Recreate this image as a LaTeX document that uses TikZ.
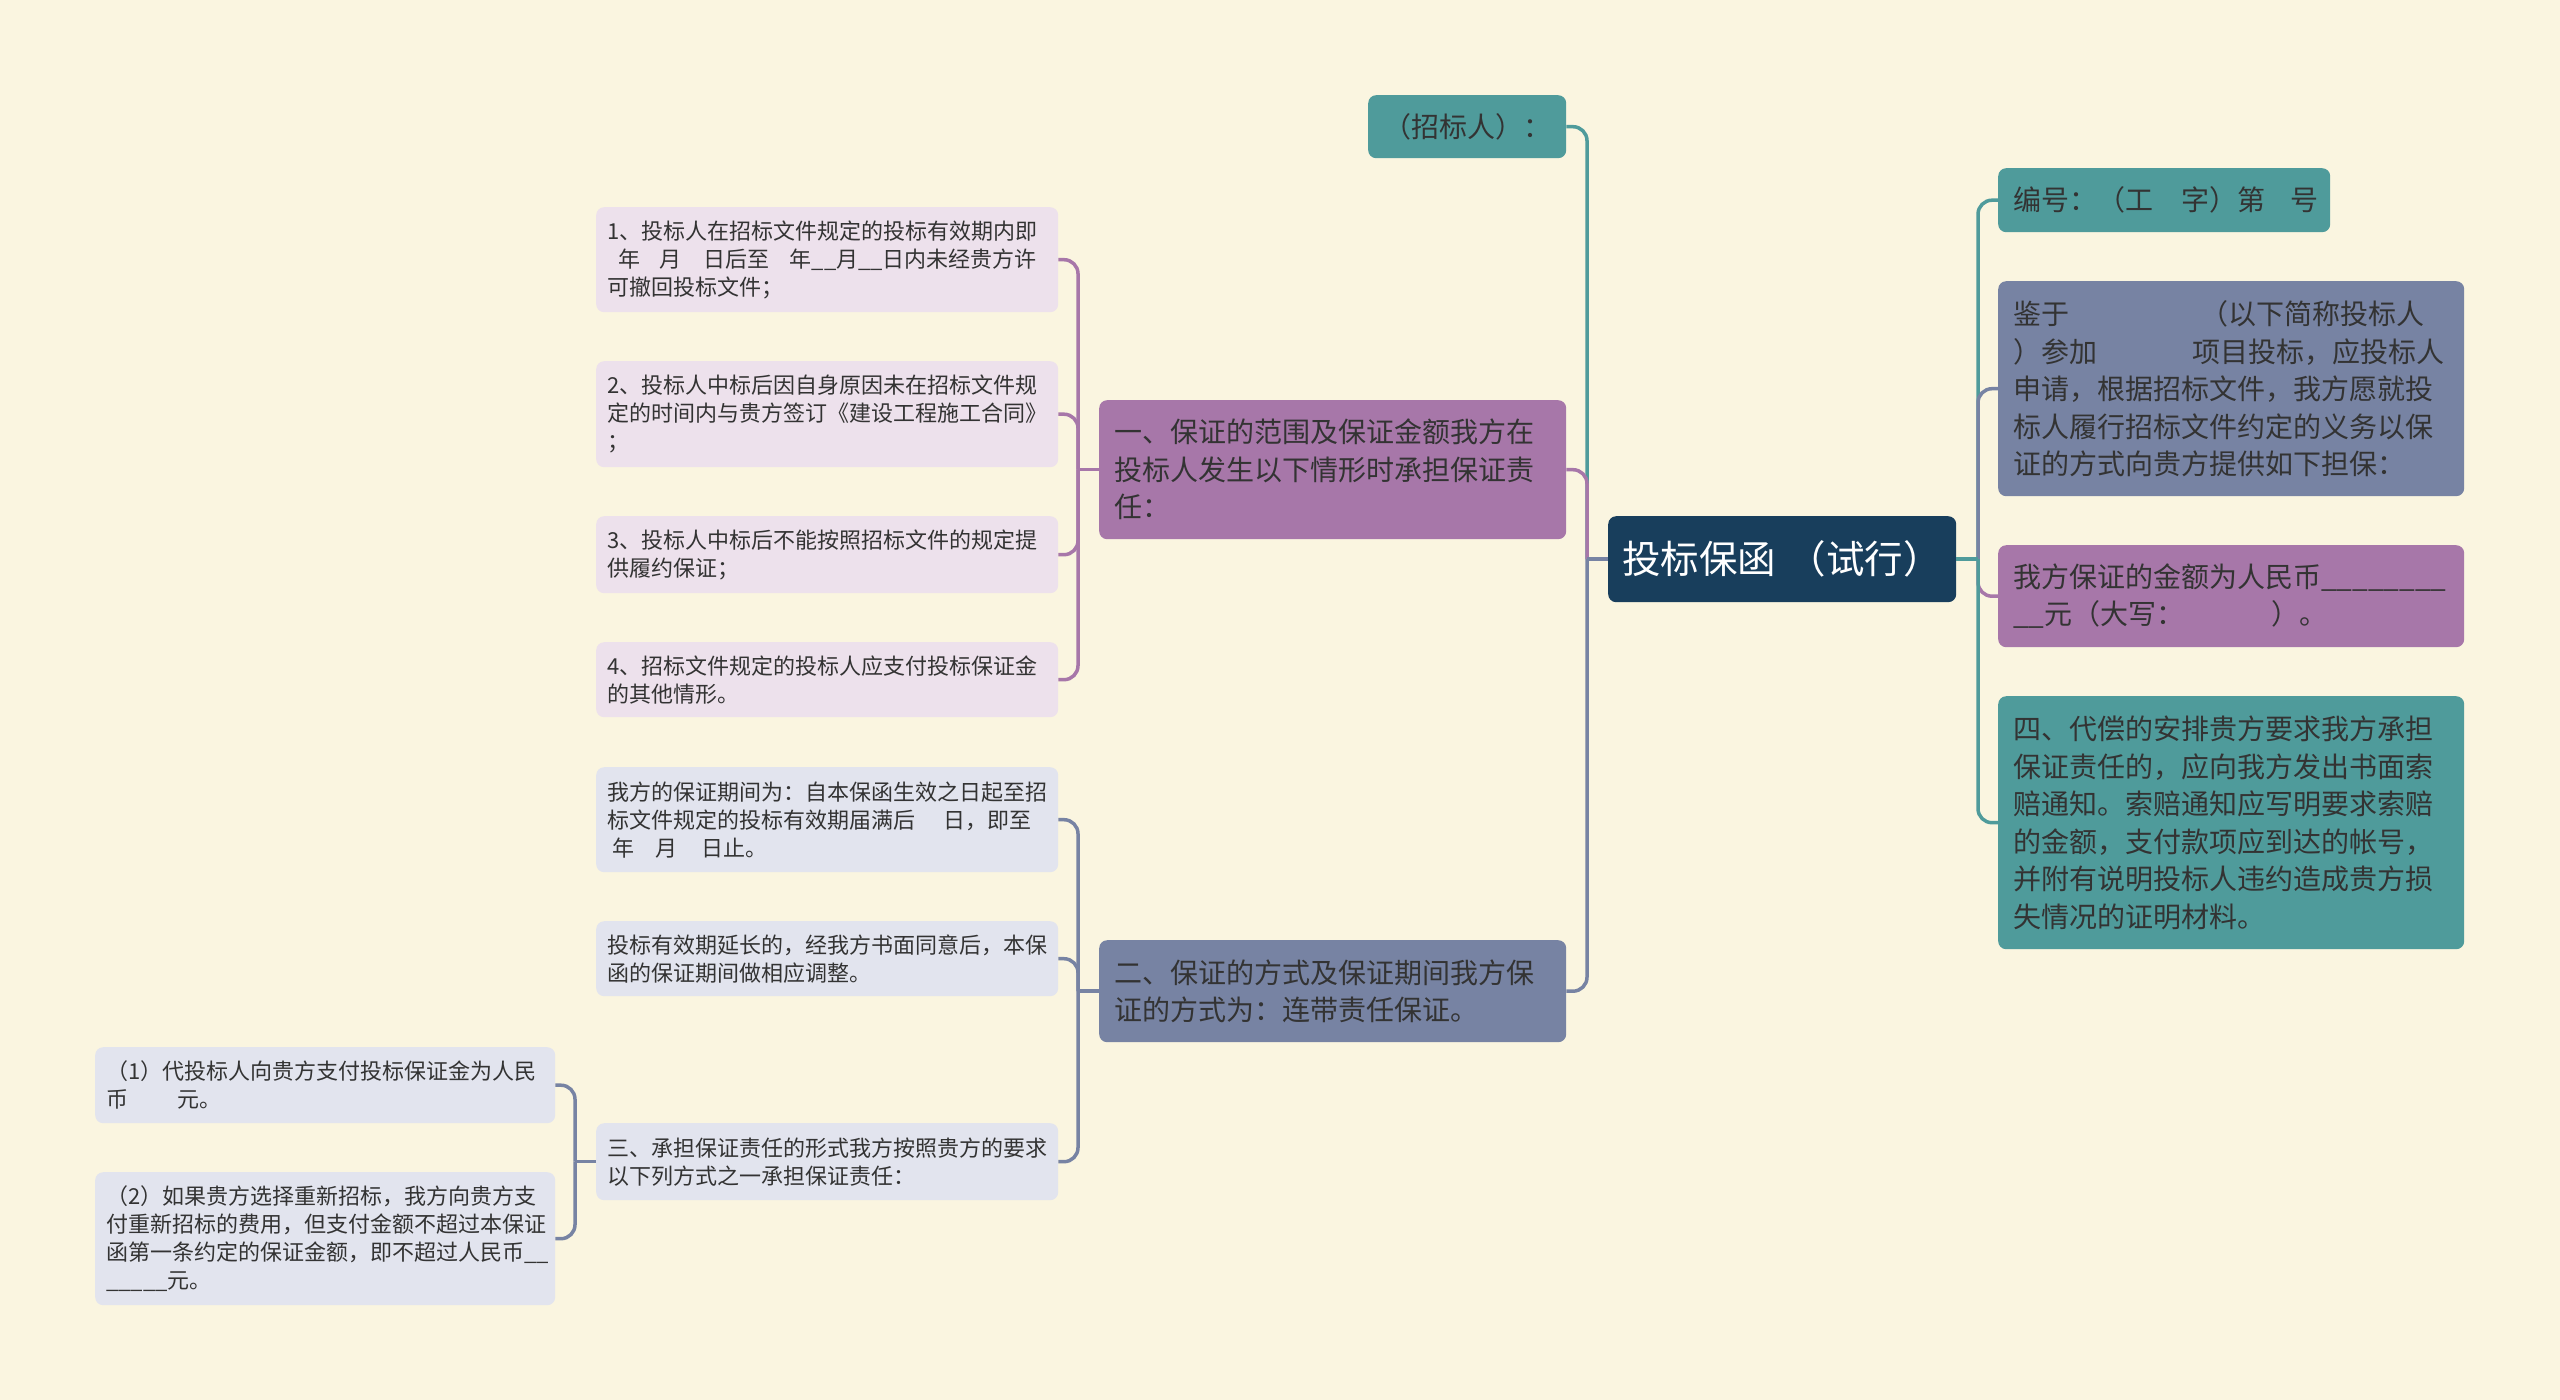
\documentclass[tikz,border=0pt]{standalone}
\usepackage{fontspec}
\setmainfont{Noto Sans CJK SC}
\definecolor{bgc}{HTML}{FAF5E0}
\definecolor{tealc}{HTML}{4F9B9B}
\definecolor{purpc}{HTML}{A777A9}
\definecolor{slatec}{HTML}{7783A3}
\definecolor{navyc}{HTML}{183E5C}
\definecolor{lavc}{HTML}{EDE1EC}
\definecolor{greyc}{HTML}{E2E4EE}
\definecolor{txtc}{HTML}{333333}
\newcommand\blankgap[1]{\nobreak\hspace*{#1}\nobreak}
\tikzset{
  boxbase/.style={anchor=north west, rounded corners=8pt, inner ysep=0pt, align=left, text=txtc},
  bigbox/.style={boxbase, inner xsep=15pt, font=\fontsize{28pt}{37.5pt}\selectfont},
  smallbox/.style={boxbase, inner xsep=11pt, font=\fontsize{22pt}{28pt}\selectfont},
  lk/.style={line width=3.5pt, rounded corners=14pt},
}
\begin{document}
\begin{tikzpicture}[x=1pt,y=-1pt]
\useasboundingbox (0,0) rectangle (2560,1400);
\fill[bgc] (0,0) rectangle (2560,1400);

% root
\node[boxbase, fill=navyc, text=white, align=center, inner xsep=0pt, minimum width=348pt, minimum height=86pt, font=\fontsize{38.5pt}{46pt}\selectfont] (root) at (1608,516) {\mbox{投标保函\blankgap{0.3em}（试行）}};

% left level 1
\node[bigbox, fill=tealc, align=center, inner xsep=0pt, minimum width=198pt, minimum height=63pt] (zb) at (1368,95) {（招标人）：};
\node[bigbox, fill=purpc, text width=437pt, minimum height=139pt] (yi) at (1099,400) {一、保证的范围及保证金额我方在\\投标人发生以下情形时承担保证责\\任：};
\node[bigbox, fill=slatec, text width=437pt, minimum height=102pt] (er) at (1099,940) {二、保证的方式及保证期间我方保\\证的方式为：连带责任保证。};

% children of yi
\node[smallbox, fill=lavc, text width=440pt, minimum height=105pt] (c1) at (596,207) {1、投标人在招标文件规定的投标有效期内即\\\mbox{\blankgap{0.5em}年\blankgap{0.9em}月\blankgap{1em}日后至\blankgap{0.9em}年\_\_月\_\_日内未经贵方许}\\可撤回投标文件；};
\node[smallbox, fill=lavc, text width=440pt, minimum height=106pt] (c2) at (596,361) {2、投标人中标后因自身原因未在招标文件规\\定的时间内与贵方签订《建设工程施工合同》\\；};
\node[smallbox, fill=lavc, text width=440pt, minimum height=77pt] (c3) at (596,516) {3、投标人中标后不能按照招标文件的规定提\\供履约保证；};
\node[smallbox, fill=lavc, text width=440pt, minimum height=75pt] (c4) at (596,642) {4、招标文件规定的投标人应支付投标保证金\\的其他情形。};

% children of er
\node[smallbox, fill=greyc, text width=440pt, minimum height=105pt] (d1) at (596,767) {我方的保证期间为：自本保函生效之日起至招\\\mbox{标文件规定的投标有效期届满后\blankgap{1.3em}日，即至}\\\mbox{\blankgap{0.25em}年\blankgap{0.95em}月\blankgap{1.1em}日止。}};
\node[smallbox, fill=greyc, text width=440pt, minimum height=75pt] (d2) at (596,921) {投标有效期延长的，经我方书面同意后，本保\\函的保证期间做相应调整。};
\node[smallbox, fill=greyc, text width=440pt, minimum height=77pt] (d3) at (596,1123) {三、承担保证责任的形式我方按照贵方的要求\\以下列方式之一承担保证责任：};

% children of d3
\node[smallbox, fill=greyc, text width=438pt, minimum height=76pt] (e1) at (95,1047) {（1）代投标人向贵方支付投标保证金为人民\\\mbox{币\blankgap{2.25em}元。}};
\node[smallbox, fill=greyc, text width=438pt, minimum height=133pt] (e2) at (95,1172) {（2）如果贵方选择重新招标，我方向贵方支\\付重新招标的费用，但支付金额不超过本保证\\函第一条约定的保证金额，即不超过人民币\_\_\\\_\_\_\_\_元。};

% right level 1
\node[bigbox, fill=tealc, text width=302pt, minimum height=64pt] (bh) at (1998,168) {\mbox{编号：（工\blankgap{1em}字）第\blankgap{0.9em}号}};
\node[bigbox, fill=slatec, text width=436pt, minimum height=215pt] (jy) at (1998,281) {\mbox{鉴于\blankgap{4.7em}（以下简称投标人}\\\mbox{）参加\blankgap{3.4em}项目投标，应投标人}\\申请，根据招标文件，我方愿就投\\标人履行招标文件约定的义务以保\\证的方式向贵方提供如下担保：};
\node[bigbox, fill=purpc, text width=436pt, minimum height=102pt] (je) at (1998,545) {我方保证的金额为人民币\_\_\_\_\_\_\_\_\\\mbox{\_\_元（大写：\blankgap{3.1em}）。}};
\node[bigbox, fill=tealc, text width=436pt, minimum height=253pt] (si) at (1998,696) {四、代偿的安排贵方要求我方承担\\保证责任的，应向我方发出书面索\\赔通知。索赔通知应写明要求索赔\\的金额，支付款项应到达的帐号，\\并附有说明投标人违约造成贵方损\\失情况的证明材料。};

% trunk coordinates
\coordinate (tL) at (1587,0);
\coordinate (tR) at (1978,0);
\coordinate (tY) at (1078,0);
\coordinate (tS) at (575,0);

% root -> left
\draw[lk, tealc] (root.west -| tL) |- (zb.east);
\draw[lk, purpc] (root.west -| tL) |- (yi.east);
\draw[lk, slatec] (root.west -| tL) |- (er.east);
\draw[lk, slatec] (root.west) -- (root.west -| tL);

% root -> right
\draw[lk, tealc] (root.east -| tR) |- (bh.west);
\draw[lk, slatec] (root.east -| tR) |- (jy.west);
\draw[lk, purpc] (root.east -| tR) |- (je.west);
\draw[lk, tealc] (root.east -| tR) |- (si.west);
\draw[lk, tealc] (root.east) -- (root.east -| tR);

% yi -> children
\draw[lk, purpc] (yi.west) -- (yi.west -| tY);
\foreach \c in {c1,c2,c3,c4}{\draw[lk, purpc] (yi.west -| tY) |- (\c.east);}

% er -> children
\draw[lk, slatec] (er.west) -- (er.west -| tY);
\foreach \c in {d1,d2,d3}{\draw[lk, slatec] (er.west -| tY) |- (\c.east);}

% d3 -> children
\draw[lk, slatec] (d3.west) -- (d3.west -| tS);
\foreach \c in {e1,e2}{\draw[lk, slatec] (d3.west -| tS) |- (\c.east);}
\end{tikzpicture}
\end{document}
